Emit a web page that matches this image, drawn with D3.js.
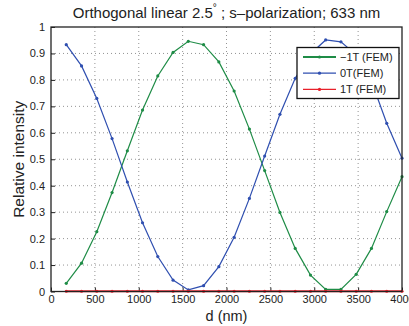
<!DOCTYPE html>
<html>
<head>
<meta charset="utf-8">
<script src="https://cdn.jsdelivr.net/npm/d3@7"></script>
<style>
  body { margin: 0; background: #fff; }
  text { font-family: "Liberation Sans", Arial, sans-serif; fill: #222; }
</style>
</head>
<body>
<div id="chart"></div>
<script>
// data
const dValues = [174, 348, 522, 696, 870, 1043, 1217, 1391, 1565, 1739, 1913, 2087,
  2261, 2435, 2609, 2783, 2957, 3130, 3304, 3478, 3652, 3826, 4000];
const minus1T = [0.031, 0.107, 0.226, 0.374, 0.532, 0.686, 0.815, 0.904, 0.946, 0.933, 0.868, 0.758,
  0.614, 0.457, 0.299, 0.163, 0.062, 0.008, 0.008, 0.065, 0.163, 0.302, 0.434];
const zeroT = [0.933, 0.853, 0.730, 0.578, 0.414, 0.260, 0.132, 0.043, 0.006, 0.022, 0.094, 0.205,
  0.352, 0.512, 0.670, 0.806, 0.898, 0.951, 0.944, 0.895, 0.795, 0.636, 0.504];
const plus1T = [0.001, 0.001, 0.001, 0.001, 0.001, 0.001, 0.001, 0.001, 0.001, 0.001, 0.001, 0.001,
  0.001, 0.001, 0.001, 0.001, 0.001, 0.001, 0.001, 0.001, 0.001, 0.001, 0.001];
const xTicks = [0, 500, 1000, 1500, 2000, 2500, 3000, 3500, 4000];
const yTicks = [0, 0.1, 0.2, 0.3, 0.4, 0.5, 0.6, 0.7, 0.8, 0.9, 1];
const seriesNames = ["\u22121T (FEM)", "0T(FEM)", "1T (FEM)"];
const seriesColors = ["#1e8c46", "#2f4fb0", "#e8202a"];

const W = 409, H = 326;
const margin = { top: 27, right: 7, bottom: 34.5, left: 51 },
  width = W - margin.left - margin.right,
  height = H - margin.top - margin.bottom;

const svgRoot = d3.select("#chart").append("svg")
  .attr("width", W).attr("height", H);
const svg = svgRoot.append("g")
  .attr("transform", `translate(${margin.left},${margin.top})`);

const x = d3.scaleLinear().domain([0, 4000]).range([0, width]);
const y = d3.scaleLinear().domain([0, 1]).range([height, 0]);

// grid (dotted)
svg.append("g").selectAll("line").data(xTicks.slice(1, -1)).join("line")
  .attr("x1", d => x(d)).attr("x2", d => x(d))
  .attr("y1", 0).attr("y2", height)
  .attr("stroke", "#777").attr("stroke-width", 0.8).attr("stroke-dasharray", "1,3");
svg.append("g").selectAll("line").data(yTicks.slice(1, -1)).join("line")
  .attr("y1", d => y(d)).attr("y2", d => y(d))
  .attr("x1", 0).attr("x2", width)
  .attr("stroke", "#777").attr("stroke-width", 0.8).attr("stroke-dasharray", "1,3");

// axes (ticks inward, MATLAB style)
const xAxis = svg.append("g")
  .attr("transform", `translate(0,${height})`)
  .call(d3.axisBottom(x).tickValues(xTicks).tickSizeInner(-4).tickSizeOuter(0).tickPadding(7)
    .tickFormat(d3.format("d")));
const yAxis = svg.append("g")
  .call(d3.axisLeft(y).tickValues(yTicks).tickSizeInner(-4).tickSizeOuter(0).tickPadding(6)
    .tickFormat(d => String(+d.toFixed(1))));
[xAxis, yAxis].forEach(a => {
  a.select(".domain").remove();
  a.selectAll("line").attr("stroke", "#222");
  a.selectAll("text").attr("font-size", "11px").attr("fill", "#222")
    .attr("font-family", "Liberation Sans, Arial, sans-serif");
});
xAxis.selectAll("text").attr("dy", "0.45em");

// series
const allSeries = [minus1T, zeroT, plus1T];
const line = d3.line().x((d, i) => x(dValues[i])).y(d => y(d));
allSeries.forEach((vals, k) => {
  svg.append("path")
    .datum(vals)
    .attr("fill", "none")
    .attr("stroke", seriesColors[k])
    .attr("stroke-width", k === 2 ? 2 : 1.2)
    .attr("d", line);
  svg.selectAll(".pt" + k)
    .data(vals).join("circle")
    .attr("class", "pt" + k)
    .attr("cx", (d, i) => x(dValues[i]))
    .attr("cy", d => y(d))
    .attr("r", 1.6)
    .attr("fill", seriesColors[k]);
});

// box
svg.append("rect")
  .attr("width", width).attr("height", height)
  .attr("fill", "none").attr("stroke", "#222").attr("stroke-width", 1.3);

// title
const title = svgRoot.append("text")
  .attr("x", margin.left + width / 2).attr("y", 18)
  .attr("text-anchor", "middle").attr("font-size", "15px");
title.append("tspan").text("Orthogonal linear 2.5");
title.append("tspan").attr("dy", -7).attr("font-size", "10px").text("\u00b0");
title.append("tspan").attr("dy", 7).text(" ; s\u2013polarization; 633 nm");

// axis labels
svgRoot.append("text")
  .attr("x", margin.left + width / 2).attr("y", 320.5)
  .attr("text-anchor", "middle").attr("font-size", "14.5px")
  .text("d (nm)");
svgRoot.append("text")
  .attr("transform", `translate(24,${margin.top + height / 2}) rotate(-90)`)
  .attr("text-anchor", "middle").attr("font-size", "15.5px")
  .text("Relative intensity");

// legend
const lg = svgRoot.append("g").attr("transform", "translate(297,47.5)");
lg.append("rect").attr("width", 102).attr("height", 51)
  .attr("fill", "#fff").attr("stroke", "#111").attr("stroke-width", 1.3);
seriesNames.forEach((name, k) => {
  const yy = 9.5 + k * 16.2;
  lg.append("line").attr("x1", 6).attr("x2", 39).attr("y1", yy).attr("y2", yy)
    .attr("stroke", seriesColors[k]).attr("stroke-width", k === 0 ? 2 : 1.3);
  lg.append("circle").attr("cx", 22.5).attr("cy", yy).attr("r", 1.6).attr("fill", seriesColors[k]);
  lg.append("text").attr("x", 43).attr("y", yy + 4).attr("font-size", "11px").text(name);
});
</script>
</body>
</html>
